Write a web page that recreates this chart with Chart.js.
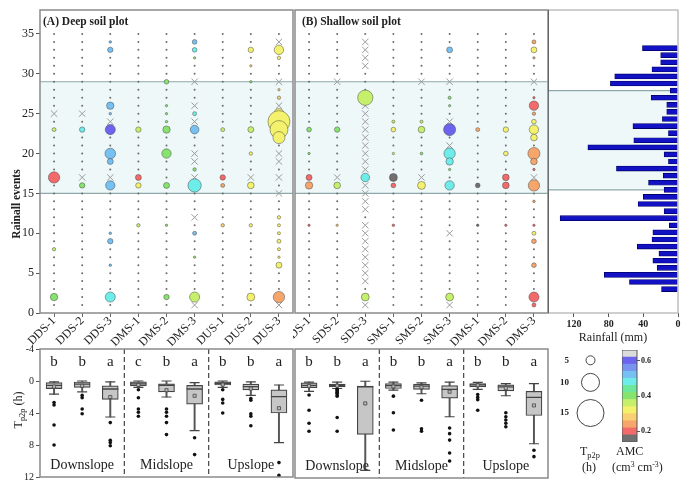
<!DOCTYPE html>
<html>
<head>
<meta charset="utf-8">
<script src="https://cdn.jsdelivr.net/npm/chart.js@4.4.1/dist/chart.umd.min.js"></script>
<style>
  body { margin: 0; background: #fff; }
  #wrap { position: relative; width: 700px; height: 485px; overflow: hidden;
          font-family: 'Liberation Serif', 'Times New Roman', serif; color: #222; }
  canvas { position: absolute; }
  .t { position: absolute; white-space: nowrap; line-height: 1; }
  .rot { transform: translate(-50%, -50%) rotate(-90deg); }
  sub { font-size: 70%; vertical-align: -3px; }
  sup { font-size: 65%; vertical-align: 4px; }
</style>
</head>
<body>
<div id="wrap">
  <canvas id="deepTop" style="left:0;top:0" width="295" height="352"></canvas>
  <canvas id="shallowTop" style="left:293px;top:0" width="257" height="352"></canvas>
  <canvas id="rainChart" style="left:548px;top:0" width="152" height="345"></canvas>
  <canvas id="deepBox" style="left:0;top:340px" width="295" height="145"></canvas>
  <canvas id="shallowBox" style="left:293px;top:340px" width="257" height="145"></canvas>
  <canvas id="sizeKey" style="left:548px;top:345px" width="62" height="85"></canvas>
  <canvas id="amcBar" style="left:622px;top:350px" width="40" height="92"></canvas>

  <div class="t" style="left:43px;top:16px;font-weight:bold;font-size:11.5px">(A) Deep soil plot</div>
  <div class="t" style="left:302px;top:16px;font-weight:bold;font-size:11.5px">(B) Shallow soil plot</div>
  <div class="t rot" style="left:17px;top:204px;font-weight:bold;font-size:11.5px">Rainall events</div>
  <div class="t rot" style="left:20px;top:410px;font-size:12px">T<sub>p2p</sub> (h)</div>
  <div class="t" style="left:580px;top:445px;font-size:12px">T<sub>p2p</sub></div>
  <div class="t" style="left:582px;top:461px;font-size:12px">(h)</div>
  <div class="t" style="left:616px;top:445px;font-size:12px">AMC</div>
  <div class="t" style="left:612px;top:461px;font-size:12px">(cm<sup>3</sup> cm<sup>-3</sup>)</div>
</div>
<script>
const serif = "'Liberation Serif', 'Times New Roman', serif";

// categories
const deepCols = ['DDS-1', 'DDS-2', 'DDS-3', 'DMS-1', 'DMS-2', 'DMS-3', 'DUS-1', 'DUS-2', 'DUS-3'];
const shallowCols = ['SDS-1', 'SDS-2', 'SDS-3', 'SMS-1', 'SMS-2', 'SMS-3', 'DMS-1', 'DMS-2', 'DMS-3'];
const events = Array.from({ length: 35 }, (_, i) => i + 1);
const slopeGroups = ['Downslope', 'Midslope', 'Upslope'];

// rainfall (mm) for events 1..35
const rainfall = [19, 56, 85, 24, 29, 22, 47, 30, 29, 10, 136, 16, 46, 40, 16, 34, 17, 71, 11, 16,
                  104, 51, 11, 52, 18, 13, 13, 31, 9, 78, 73, 30, 20, 20, 41];
const bandEvents = [15, 29];

// bubbles per column: [event, Tp2p (h), AMC]
const deepBubbles = [
  [[23, 2.2, 0.36], [17, 6.3, 0.2], [8, 1.9, 0.36], [2, 4.1, 0.4]],
  [[23, 3, 0.48], [16, 3, 0.4]],
  [[34, 1.4, 0.52], [33, 3, 0.52], [26, 4.1, 0.52], [25, 1.4, 0.52], [23, 5.6, 0.6], [20, 5.9, 0.52],
   [19, 3.3, 0.52], [16, 5.2, 0.52], [10, 1.4, 0.52], [9, 3, 0.52], [6, 1.4, 0.52], [2, 5.6, 0.48]],
  [[23, 3, 0.36], [17, 3.3, 0.2], [16, 3, 0.32], [11, 1.9, 0.36]],
  [[29, 2.6, 0.4], [26, 1.3, 0.4], [25, 1.3, 0.4], [24, 1.3, 0.4], [23, 4.1, 0.4], [20, 5.2, 0.4],
   [16, 3.3, 0.4], [11, 1.3, 0.4], [2, 3, 0.4]],
  [[34, 2.6, 0.52], [33, 2.6, 0.48], [32, 1.3, 0.4], [25, 2.2, 0.48], [23, 4.8, 0.52], [18, 1.9, 0.4],
   [16, 7.4, 0.48], [10, 2.2, 0.52], [7, 1.3, 0.4], [2, 5.6, 0.36]],
  [[23, 2.2, 0.36], [17, 3, 0.2], [16, 2.2, 0.24], [11, 1.9, 0.28]],
  [[33, 3, 0.32], [31, 1.3, 0.28], [29, 1.3, 0.4], [23, 3.3, 0.36], [20, 1.9, 0.32], [16, 3.7, 0.32],
   [11, 1.9, 0.32], [2, 4.4, 0.32]],
  [[33, 5.2, 0.32], [32, 1.9, 0.32], [28, 1.3, 0.28], [27, 1.9, 0.28], [25, 5.6, 0.32], [24, 12.2, 0.32],
   [23, 10, 0.32], [22, 6.7, 0.32], [12, 1.9, 0.32], [11, 1.7, 0.32], [10, 1.7, 0.32], [9, 2.2, 0.32],
   [8, 1.7, 0.32], [7, 1.3, 0.32], [6, 3.3, 0.32], [2, 6.3, 0.24]]
];
const shallowBubbles = [
  [[23, 2.6, 0.4], [20, 1.3, 0.4], [17, 3.3, 0.2], [16, 4.1, 0.24], [11, 1.3, 0.2]],
  [[23, 3, 0.4], [16, 3.7, 0.36], [11, 1.3, 0.28]],
  [[27, 8.5, 0.36], [17, 4.8, 0.48], [2, 4.4, 0.36]],
  [[24, 1.7, 0.36], [23, 2.6, 0.32], [20, 1.3, 0.36], [17, 4.4, 0.16], [16, 2.6, 0.2], [11, 1.4, 0.2]],
  [[24, 1.7, 0.36], [23, 3.7, 0.36], [20, 1.5, 0.4], [16, 4.4, 0.32]],
  [[33, 3.3, 0.52], [27, 1.7, 0.4], [26, 1.3, 0.4], [23, 6.7, 0.6], [20, 6.3, 0.48], [19, 4.1, 0.48],
   [18, 1.3, 0.4], [16, 5.2, 0.48], [2, 4.4, 0.36]],
  [[23, 2.2, 0.24], [16, 2.6, 0.16], [11, 1.4, 0.16]],
  [[23, 3, 0.32], [20, 2.6, 0.32], [17, 3.7, 0.2], [16, 3.7, 0.2], [11, 1.3, 0.2]],
  [[34, 2.2, 0.24], [33, 3.3, 0.32], [32, 1.3, 0.24], [27, 1.3, 0.2], [26, 5.2, 0.2], [25, 1.9, 0.24],
   [24, 2.6, 0.32], [23, 5.2, 0.32], [22, 3.7, 0.32], [20, 6.7, 0.24], [19, 3.7, 0.24], [18, 1.3, 0.2],
   [16, 6.3, 0.24], [14, 1.4, 0.24], [11, 1.3, 0.2], [10, 2.2, 0.32], [9, 2.6, 0.24], [6, 2.6, 0.24],
   [2, 5.6, 0.2], [1, 2.2, 0.2]]
];

// events marked with a cross, per column
const deepCross = [[25], [25, 17], [24, 17], [], [], [29, 26, 24, 20, 19, 17, 12, 1], [], [17],
                   [34, 29, 26, 20, 19, 17, 15, 1]];
const shallowCross = [[], [29, 17],
  [34, 33, 32, 31, 26, 25, 24, 23, 22, 21, 20, 19, 18, 16, 15, 14, 13, 11, 10, 9, 8, 7, 6, 5, 4, 1],
  [], [29, 17], [29, 24, 21, 10, 1], [], [], [29, 17]];

// box stats per column: [min, q1, median, q3, max, mean] (h)
const deepStats = [
  [0.1, 0.2, 0.55, 0.95, 1.65, 0.7], [0.0, 0.12, 0.4, 0.8, 1.35, 0.6], [0.1, 0.6, 1.0, 2.3, 4.5, 2.0],
  [0.0, 0.1, 0.35, 0.6, 0.8, 0.5], [0.0, 0.35, 0.55, 1.35, 2.0, 1.15], [0.2, 0.55, 1.0, 2.9, 6.2, 1.85],
  [0.0, 0.1, 0.3, 0.5, 0.8, 0.45], [0.1, 0.4, 0.7, 1.1, 1.8, 0.95], [0.5, 1.1, 1.95, 4.0, 7.7, 3.4]
];
const deepOutliers = [
  [2.7, 3.0, 5.5, 8.0], [1.8, 2.1, 3.5, 4.1], [5.2, 7.4, 7.7, 8.1], [1.1, 2.1, 3.5, 3.9, 4.4],
  [3.5, 3.9, 4.4, 5.2, 6.7], [7.1, 9.2], [1.1, 2.3, 2.75, 4.0], [2.2, 2.4, 4.1, 4.4, 5.6], [10.2, 11.8]
];
const shallowStats = [
  [0.1, 0.2, 0.5, 0.8, 1.25, 0.6], [0.1, 0.35, 0.5, 0.7, 0.9, 0.55], [0.0, 0.6, 0.7, 6.6, 11.05, 2.75],
  [0.1, 0.3, 0.55, 0.9, 1.1, 0.65], [0.2, 0.35, 0.6, 1.0, 1.55, 0.75], [0.1, 0.55, 1.0, 2.1, 4.4, 1.3],
  [0.15, 0.3, 0.45, 0.7, 1.0, 0.5], [0.3, 0.45, 0.7, 1.2, 1.8, 0.85], [0.3, 1.25, 2.0, 4.25, 7.75, 3.0]
];
const shallowOutliers = [
  [1.7, 3.6, 5.2, 6.2], [1.0, 1.1, 1.2, 1.35, 1.5, 1.7, 1.85, 4.5, 6.2], [], [1.85, 3.9, 6.05],
  [2.35, 5.9, 6.2], [5.8, 6.5, 7.3, 8.9, 9.9], [1.65, 2.0, 2.3, 3.6], [3.9, 4.4, 4.8, 5.2, 5.65], [8.55, 9.35]
];
const deepLetters = ['b', 'b', 'a', 'c', 'b', 'a', 'b', 'b', 'a'];
const shallowLetters = ['b', 'b', 'a', 'b', 'b', 'a', 'b', 'b', 'a'];

// AMC colour scale
const amcEdges = [0.14, 0.18, 0.22, 0.26, 0.30, 0.34, 0.38, 0.42, 0.46, 0.50, 0.54, 0.58, 0.62, 0.66];
const amcColors = ['#707070', '#f26a6a', '#f7a66b', '#f8cf72', '#f4f26c', '#c6ef6c', '#86e46e',
                   '#6ee79a', '#6eecea', '#76c0f2', '#7894f0', '#6c64ec', '#dcdcdc'];
const amcTicks = [0.2, 0.4, 0.6];
const sizeKeys = [5, 10, 15];

const R_PER_H = 0.9;   // bubble radius px per hour

function amcColor(v) {
  let i = amcEdges.findIndex((e, k) => v >= e && v < amcEdges[k + 1]);
  return amcColors[i < 0 ? amcColors.length - 1 : i];
}

Chart.defaults.font.family = serif;
Chart.defaults.color = '#222';
Chart.defaults.animation = false;
Chart.defaults.plugins.legend.display = false;
Chart.defaults.plugins.tooltip.enabled = false;

const framePlugin = {
  id: 'frame',
  afterDatasetsDraw(chart, args, o) {
    const { ctx, chartArea: a } = chart;
    ctx.save();
    ctx.strokeStyle = o.color || '#888';
    ctx.lineWidth = o.width || 1.5;
    ctx.strokeRect(a.left, a.top, a.right - a.left, a.bottom - a.top);
    if (o.leftColor) {
      ctx.strokeStyle = o.leftColor;
      ctx.beginPath(); ctx.moveTo(a.left, a.top); ctx.lineTo(a.left, a.bottom); ctx.stroke();
    }
    ctx.restore();
  }
};

const bandPlugin = {
  id: 'band',
  beforeDatasetsDraw(chart) {
    const { ctx, chartArea: a, scales: { y } } = chart;
    const yTop = y.getPixelForValue(bandEvents[1]);
    const yBot = y.getPixelForValue(bandEvents[0]);
    ctx.save();
    ctx.fillStyle = '#eef8f9';
    ctx.fillRect(a.left, yTop, a.right - a.left, yBot - yTop);
    ctx.strokeStyle = '#8fa8ac';
    ctx.lineWidth = 1.2;
    ctx.beginPath();
    ctx.moveTo(a.left, yTop); ctx.lineTo(a.right, yTop);
    ctx.moveTo(a.left, yBot); ctx.lineTo(a.right, yBot);
    ctx.stroke();
    ctx.restore();
  }
};

const boxTextPlugin = {
  id: 'boxText',
  beforeDatasetsDraw(chart) {
    const { ctx, chartArea: a, scales: { x } } = chart;
    ctx.save();
    ctx.strokeStyle = '#444';
    ctx.lineWidth = 1.2;
    ctx.setLineDash([5, 3]);
    [2.5, 5.5].forEach(v => {
      const px = x.getPixelForValue(v);
      ctx.beginPath(); ctx.moveTo(px, a.top); ctx.lineTo(px, a.bottom); ctx.stroke();
    });
    ctx.restore();
  },
  afterDatasetsDraw(chart, args, o) {
    const { ctx, scales: { x, y } } = chart;
    ctx.save();
    ctx.fillStyle = '#222';
    ctx.textAlign = 'center';
    ctx.textBaseline = 'middle';
    ctx.font = '15px ' + serif;
    o.letters.forEach((l, i) => ctx.fillText(l, x.getPixelForValue(i), y.getPixelForValue(-2.4)));
    ctx.font = '14px ' + serif;
    slopeGroups.forEach((g, k) => ctx.fillText(g, x.getPixelForValue(k * 3 + 1), y.getPixelForValue(10.6)));
    ctx.restore();
  }
};

function makeTop(id, cols, bubbles, crosses, showY) {
  const bubblePts = cols.flatMap((c, i) =>
    bubbles[i].map(([ev, h, amc]) => ({ x: c, y: ev, r: h * R_PER_H, amc })));
  const crossPts = cols.flatMap((c, i) => crosses[i].map(ev => ({ x: c, y: ev })));
  const dotPts = cols.flatMap((c, i) => events
    .filter(ev => !crosses[i].includes(ev) && !bubbles[i].some(b => b[0] === ev))
    .map(ev => ({ x: c, y: ev })));

  return new Chart(document.getElementById(id), {
    type: 'bubble',
    data: {
      labels: cols,
      datasets: [
        {
          type: 'scatter', data: dotPts, order: 3,
          pointRadius: 1, pointBackgroundColor: '#6b6b6b', pointBorderWidth: 0
        },
        {
          type: 'scatter', data: crossPts, order: 2,
          pointStyle: 'crossRot', pointRadius: 4.5, pointBorderColor: '#9a9a9a', pointBorderWidth: 1
        },
        {
          data: bubblePts, order: 1, clip: false,
          backgroundColor: ctx => amcColor(ctx.raw ? ctx.raw.amc : 0.4),
          borderColor: 'rgba(70,70,70,0.7)', borderWidth: 0.7
        }
      ]
    },
    options: {
      responsive: false,
      layout: { autoPadding: false, padding: { top: 10, right: 2, left: showY ? 0 : 2 } },
      scales: {
        x: {
          type: 'category', offset: true,
          grid: { drawOnChartArea: false, tickLength: 4, color: '#666' },
          border: { display: false },
          ticks: { minRotation: 45, maxRotation: 45, font: { size: 12 }, padding: -3 },
          afterFit: s => { s.height = 39; s.paddingLeft = 0; s.paddingRight = 0; }
        },
        y: {
          display: showY, min: 0, max: 38,
          grid: { drawOnChartArea: false, tickLength: 4, color: '#555' },
          border: { display: false },
          ticks: { stepSize: 5, includeBounds: false, font: { size: 12 }, padding: 2 },
          afterFit: s => { s.width = showY ? 40 : 0; }
        }
      },
      plugins: { frame: { color: '#8a8a8a', width: 1.5 } }
    },
    plugins: [bandPlugin, framePlugin]
  });
}

function makeBox(id, cols, stats, outliers, letters, showY) {
  const pt = (i, v) => ({ x: cols[i], y: v });
  return new Chart(document.getElementById(id), {
    type: 'bar',
    data: {
      labels: cols,
      datasets: [
        { data: stats.map(s => [s[0], s[4]]), backgroundColor: '#555', barThickness: 1.3, grouped: false, order: 6 },
        {
          data: stats.map(s => [s[1], s[3]]), backgroundColor: '#c6c6c6', borderColor: '#444',
          borderWidth: 1.2, borderSkipped: false, barThickness: 16, grouped: false, order: 5
        },
        {
          type: 'scatter', data: stats.flatMap((s, i) => [pt(i, s[0]), pt(i, s[4])]), order: 4,
          pointStyle: 'line', pointRadius: 5, pointBorderColor: '#444', pointBorderWidth: 1.2
        },
        {
          type: 'scatter', data: stats.map((s, i) => pt(i, s[2])), order: 3,
          pointStyle: 'line', pointRadius: 8, pointBorderColor: '#444', pointBorderWidth: 1.3
        },
        {
          type: 'scatter', data: stats.map((s, i) => pt(i, s[5])), order: 2,
          pointStyle: 'rect', pointRadius: 2.2, pointBackgroundColor: '#bbb',
          pointBorderColor: '#444', pointBorderWidth: 0.8
        },
        {
          type: 'scatter', data: outliers.flatMap((o, i) => o.map(v => pt(i, v))), order: 1,
          pointRadius: 1.8, pointBackgroundColor: '#111', pointBorderWidth: 0
        }
      ]
    },
    options: {
      responsive: false,
      layout: { autoPadding: false, padding: { top: 9, bottom: 7, right: 2, left: showY ? 0 : 2 } },
      scales: {
        x: { type: 'category', display: false, offset: true },
        y: {
          display: showY, reverse: true, min: -4, max: 12,
          grid: { drawOnChartArea: false, tickLength: 4, color: '#555' },
          border: { display: false },
          ticks: { stepSize: 4, font: { size: 10 }, padding: 2 },
          afterFit: s => { s.width = showY ? 40 : 0; }
        }
      },
      plugins: { frame: { color: '#8a8a8a', width: 1.5 }, boxText: { letters } }
    },
    plugins: [boxTextPlugin, framePlugin]
  });
}

makeTop('deepTop', deepCols, deepBubbles, deepCross, true);
makeTop('shallowTop', shallowCols, shallowBubbles, shallowCross, false);
makeBox('deepBox', deepCols, deepStats, deepOutliers, deepLetters, true);
makeBox('shallowBox', shallowCols, shallowStats, shallowOutliers, shallowLetters, false);

// rainfall bars
new Chart(document.getElementById('rainChart'), {
  type: 'bar',
  data: {
    datasets: [{
      data: rainfall.map((v, i) => ({ x: v, y: events[i] })),
      backgroundColor: '#1212c4', borderColor: '#00006a', borderWidth: 0.8, barThickness: 5
    }]
  },
  options: {
    responsive: false,
    indexAxis: 'y',
    layout: { autoPadding: false, padding: { top: 10, right: 22, left: 0 } },
    scales: {
      y: { type: 'linear', display: false, min: 0, max: 38 },
      x: {
        type: 'linear', reverse: true, min: 0, max: 150,
        grid: { drawOnChartArea: false, tickLength: 4, color: '#555' },
        border: { display: false },
        ticks: { stepSize: 40, includeBounds: false, font: { size: 10, weight: 'bold' }, padding: 1 },
        title: { display: true, text: 'Rainfall (mm)', font: { size: 12 }, padding: { top: 1, bottom: 0 } },
        afterFit: s => { s.height = 32; s.paddingLeft = 0; s.paddingRight = 0; }
      }
    },
    plugins: { frame: { color: '#b0b0b0', width: 1.2, leftColor: '#333' } }
  },
  plugins: [bandPlugin, framePlugin]
});

// Tp2p size key
const sizeKeyPos = [0.18, 0.44, 0.8];
new Chart(document.getElementById('sizeKey'), {
  type: 'bubble',
  data: {
    datasets: [{
      data: sizeKeys.map((h, i) => ({ x: 0.5, y: sizeKeyPos[i], r: h * R_PER_H })),
      backgroundColor: '#fff', borderColor: '#444', borderWidth: 1, clip: false
    }]
  },
  options: {
    responsive: false,
    layout: { autoPadding: false, padding: 0 },
    scales: {
      x: { display: false, min: 0, max: 1 },
      y: {
        min: 0, max: 1, reverse: true,
        afterBuildTicks: s => { s.ticks = sizeKeyPos.map(v => ({ value: v })); },
        ticks: { callback: (v, i) => String(sizeKeys[i]), font: { size: 9, weight: 'bold' }, padding: 2 },
        grid: { display: false, drawTicks: false }, border: { display: false },
        afterFit: s => { s.width = 23; s.paddingTop = 0; s.paddingBottom = 0; }
      }
    }
  }
});

// AMC colour bar
new Chart(document.getElementById('amcBar'), {
  type: 'bar',
  data: {
    labels: ['AMC'],
    datasets: amcColors.map((c, i) => ({
      data: [[amcEdges[i], amcEdges[i + 1]]], backgroundColor: c,
      grouped: false, barPercentage: 1, categoryPercentage: 1
    }))
  },
  options: {
    responsive: false,
    layout: { autoPadding: false, padding: 0 },
    scales: {
      x: { display: false },
      y: {
        position: 'right', min: amcEdges[0], max: amcEdges[amcEdges.length - 1],
        afterBuildTicks: s => { s.ticks = amcTicks.map(v => ({ value: v })); },
        ticks: { callback: v => v.toFixed(1), font: { size: 8, weight: 'bold' }, padding: 1 },
        grid: { drawOnChartArea: false, tickLength: 3, color: '#555' },
        border: { display: false },
        afterFit: s => { s.width = 25; s.paddingTop = 0; s.paddingBottom = 0; }
      }
    },
    plugins: { frame: { color: '#555', width: 1 } }
  },
  plugins: [framePlugin]
});
</script>
</body>
</html>
